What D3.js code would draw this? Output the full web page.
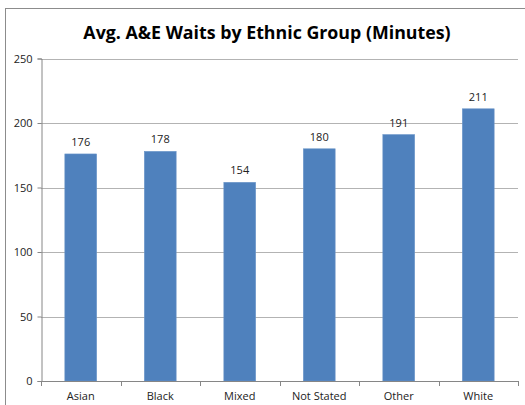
<!DOCTYPE html>
<html>
<head>
<meta charset="utf-8">
<script src="https://cdn.jsdelivr.net/npm/d3@7"></script>
<style>
  html, body { margin: 0; padding: 0; background: #fff; }
  svg { display: block; }
</style>
</head>
<body>
<script>
// Average A&E waiting time per ethnic group, in minutes
const categories = ["Asian", "Black", "Mixed", "Not Stated", "Other", "White"];
const waits = [176, 178, 154, 180, 191, 211];
const yTicks = [0, 50, 100, 150, 200, 250];
const title = "Avg. A&E Waits by Ethnic Group (Minutes)";

const W = 525, H = 405;
const margin = { left: 41, right: 7, top: 58.5, bottom: 24 };
const font = "'Open Sans', 'Liberation Sans', sans-serif";

const svg = d3.select("body").append("svg")
  .attr("width", W).attr("height", H);

// chart frame (only left and top edges fall inside the view)
svg.append("rect")
  .attr("x", 5.5).attr("y", 8.5)
  .attr("width", W + 20).attr("height", H + 20)
  .attr("fill", "none").attr("stroke", "#8c8c8c").attr("stroke-width", 1);

svg.append("text")
  .attr("x", 267).attr("y", 39)
  .attr("text-anchor", "middle")
  .attr("font-family", font)
  .attr("font-weight", "bold")
  .attr("font-size", 17.8)
  .attr("fill", "#000")
  .text(title);

const x = d3.scaleBand()
  .domain(categories)
  .range([margin.left, W - margin.right])
  .paddingInner(0.6).paddingOuter(0.3);

const y = d3.scaleLinear()
  .domain([0, 250])
  .range([H - margin.bottom, margin.top]);

// horizontal gridlines
svg.append("g")
  .selectAll("line")
  .data(yTicks.filter(d => d > 0))
  .join("line")
  .attr("x1", margin.left).attr("x2", W - margin.right)
  .attr("y1", d => Math.round(y(d)) + 0.5).attr("y2", d => Math.round(y(d)) + 0.5)
  .attr("stroke", "#b3b3b3").attr("stroke-width", 1);

// y axis
const yAxis = svg.append("g")
  .attr("transform", `translate(${margin.left + 0.5},0)`)
  .call(d3.axisLeft(y).tickValues(yTicks).tickSize(4).tickPadding(5));
yAxis.selectAll("path, line").attr("stroke", "#868686");
yAxis.selectAll("text")
  .attr("font-family", font).attr("font-size", 11).attr("fill", "#222");

// bars
svg.append("g")
  .selectAll("rect")
  .data(categories.map((c, i) => ({ c, v: waits[i] })))
  .join("rect")
  .attr("x", d => x(d.c))
  .attr("y", d => y(d.v))
  .attr("width", x.bandwidth())
  .attr("height", d => y(0) - y(d.v))
  .attr("fill", "#4f81bd")
  .attr("stroke", "#6a95c8").attr("stroke-width", 0.6);

// value labels
svg.append("g")
  .selectAll("text")
  .data(categories.map((c, i) => ({ c, v: waits[i] })))
  .join("text")
  .attr("x", d => x(d.c) + x.bandwidth() / 2)
  .attr("y", d => y(d.v) - 8)
  .attr("text-anchor", "middle")
  .attr("font-family", font).attr("font-size", 11).attr("fill", "#222")
  .text(d => d.v);

// x axis with category boundary ticks
const x0 = y(0);
const xg = svg.append("g");
xg.append("line")
  .attr("x1", margin.left).attr("x2", W - margin.right)
  .attr("y1", Math.round(x0) + 0.5).attr("y2", Math.round(x0) + 0.5)
  .attr("stroke", "#868686");
const step = x.step();
const boundaries = d3.range(categories.length + 1).map(i => margin.left + i * step);
xg.selectAll("line.tick")
  .data(boundaries)
  .join("line")
  .attr("class", "tick")
  .attr("x1", d => Math.round(d) + 0.5).attr("x2", d => Math.round(d) + 0.5)
  .attr("y1", Math.round(x0)).attr("y2", Math.round(x0) + 5)
  .attr("stroke", "#868686");
xg.selectAll("text")
  .data(categories)
  .join("text")
  .attr("x", d => x(d) + x.bandwidth() / 2)
  .attr("y", x0 + 19)
  .attr("text-anchor", "middle")
  .attr("font-family", font).attr("font-size", 11).attr("fill", "#222")
  .text(d => d);
</script>
</body>
</html>
